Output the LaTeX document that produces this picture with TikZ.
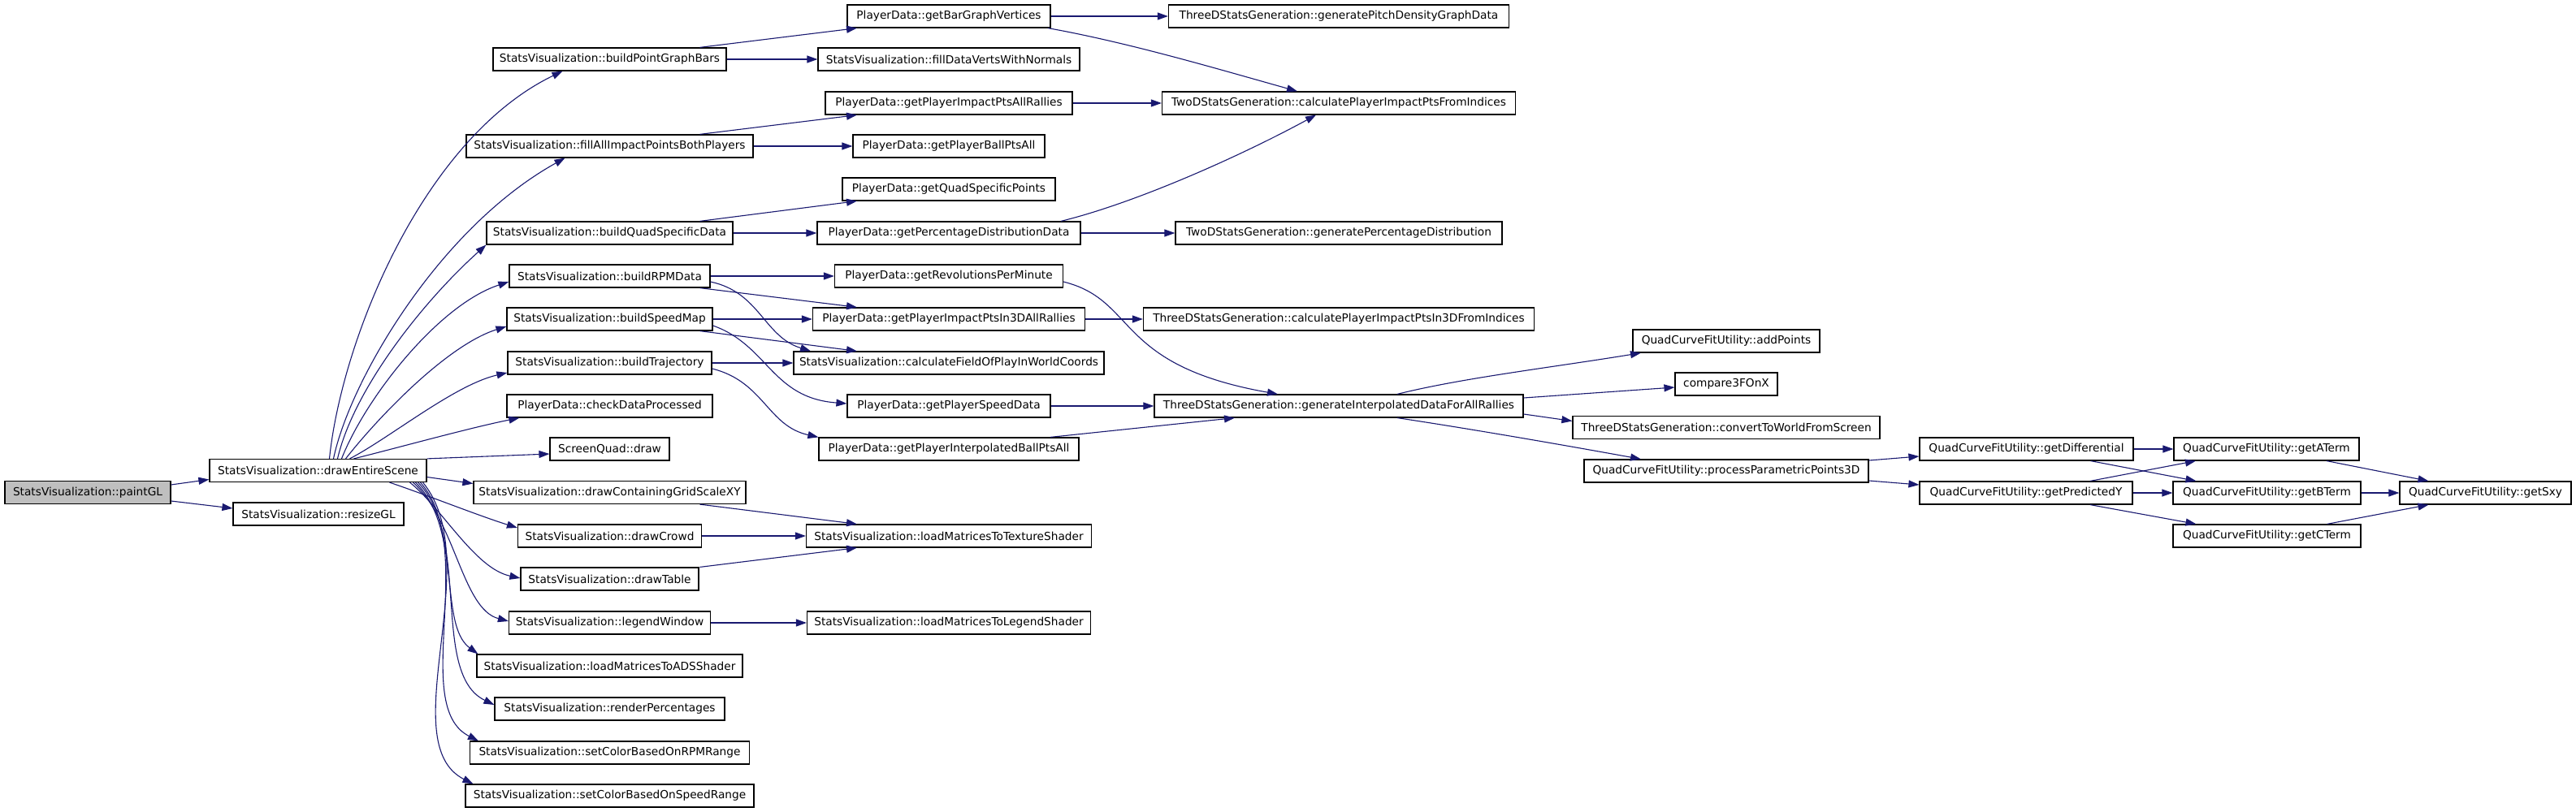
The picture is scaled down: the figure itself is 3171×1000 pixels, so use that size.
\documentclass[tikz,border=0pt]{standalone}
\usepackage{fontspec}
\setmainfont{DejaVu Sans}
\usetikzlibrary{arrows.meta}
\definecolor{edgeblue}{HTML}{191970}
\definecolor{rootgray}{HTML}{BFBFBF}
\tikzset{
  fn/.style={draw=black, line width=1.2pt, fill=white, minimum height=28pt, inner sep=0pt,
    font=\fontsize{13.7}{16}\selectfont},
  call/.style={draw=edgeblue, line width=1.1pt, -{Triangle[length=13pt,width=9pt]}}
}

\begin{document}
\begin{tikzpicture}[x=1pt, y=-1pt]
    \useasboundingbox (0,0) rectangle (3171,1000);

    % root and first level
    \node[fn, fill=rootgray, minimum width=204pt] (pgl) at (108,606.5) {StatsVisualization::paintGL};
    \node[fn, minimum width=267pt] (des) at (391.5,579.5) {StatsVisualization::drawEntireScene};
    \node[fn, minimum width=210pt] (rgl) at (392,633) {StatsVisualization::resizeGL};

    % callees of drawEntireScene
    \foreach \nm/\yy/\ww/\txt in {
        bpgb/73/287/buildPointGraphBars, faip/180/353/fillAllImpactPointsBothPlayers,
        bqsd/287/303/buildQuadSpecificData, brpm/340/247/buildRPMData,
        bsm/393/253/buildSpeedMap, btr/447/251/buildTrajectory,
        dcg/606.5/335/drawContainingGridScaleXY, dcr/660/226/drawCrowd,
        dtb/713/219/drawTable, lgw/767/248/legendWindow,
        lads/820/327/loadMatricesToADSShader, rpc/873/283/renderPercentages,
        scr/927/344/setColorBasedOnRPMRange, scs/980/355/setColorBasedOnSpeedRange} {
        \node[fn, minimum width=\ww pt] (\nm) at (750.5,\yy) {StatsVisualization::\txt};
    }
    \node[fn, minimum width=253pt] (cdp) at (750.5,500) {PlayerData::checkDataProcessed};
    \node[fn, minimum width=147pt] (sqd) at (750.5,553) {ScreenQuad::draw};

    % third column
    \foreach \nm/\yy/\ww/\txt in {
        gbgv/20/250/PlayerData::getBarGraphVertices,
        fdvn/73/322/StatsVisualization::fillDataVertsWithNormals,
        gpia/127/304/PlayerData::getPlayerImpactPtsAllRallies,
        gpba/180/236/PlayerData::getPlayerBallPtsAll,
        gqsp/233/262/PlayerData::getQuadSpecificPoints,
        gpdd/287/324/PlayerData::getPercentageDistributionData,
        grpm/340/281/PlayerData::getRevolutionsPerMinute,
        gpi3/393/335/PlayerData::getPlayerImpactPtsIn3DAllRallies,
        cfp/447/382/StatsVisualization::calculateFieldOfPlayInWorldCoords,
        gpsd/500/250/PlayerData::getPlayerSpeedData,
        gpib/553/320/PlayerData::getPlayerInterpolatedBallPtsAll,
        lmts/660/351/StatsVisualization::loadMatricesToTextureShader,
        lmls/767/349/StatsVisualization::loadMatricesToLegendShader} {
        \node[fn, minimum width=\ww pt] (\nm) at (1168,\yy) {\txt};
    }

    % fourth column
    \foreach \nm/\yy/\ww/\txt in {
        gpdg/20/419/ThreeDStatsGeneration::generatePitchDensityGraphData,
        cpif/127/435/TwoDStatsGeneration::calculatePlayerImpactPtsFromIndices,
        gpdi/287/402/TwoDStatsGeneration::generatePercentageDistribution,
        cp3f/393/481/ThreeDStatsGeneration::calculatePlayerImpactPtsIn3DFromIndices,
        gida/500/454/ThreeDStatsGeneration::generateInterpolatedDataForAllRallies} {
        \node[fn, minimum width=\ww pt] (\nm) at (1648,\yy) {\txt};
    }

    % curve fit part
    \node[fn, minimum width=230pt] (adp) at (2125,420) {QuadCurveFitUtility::addPoints};
    \node[fn, minimum width=126pt] (c3f) at (2125,473) {compare3FOnX};
    \node[fn, minimum width=378pt] (ctw) at (2125,526.5) {ThreeDStatsGeneration::convertToWorldFromScreen};
    \node[fn, minimum width=350pt] (ppp) at (2125,580) {QuadCurveFitUtility::processParametricPoints3D};
    \node[fn, minimum width=263pt] (gdf) at (2494.5,553) {QuadCurveFitUtility::getDifferential};
    \node[fn, minimum width=262pt] (gpy) at (2494,607) {QuadCurveFitUtility::getPredictedY};
    \node[fn, minimum width=228pt] (gat) at (2790,553) {QuadCurveFitUtility::getATerm};
    \node[fn, minimum width=231pt] (gbt) at (2790.5,607) {QuadCurveFitUtility::getBTerm};
    \node[fn, minimum width=231pt] (gct) at (2790.5,660) {QuadCurveFitUtility::getCTerm};
    \node[fn, minimum width=211pt] (gsxy) at (3059.5,607) {QuadCurveFitUtility::getSxy};

    % paintGL
    \draw[call] ([yshift=9.5pt]pgl.east) -- ([yshift=-11pt]des.west);
    \draw[call] ([yshift=-10.5pt]pgl.east) -- ([yshift=7pt]rgl.west);

    % drawEntireScene, upper fan
    \draw[call] ([xshift=14pt]des.north) .. controls +(15,-146) and +(-172,83) .. ([xshift=-58pt]bpgb.south);
    \draw[call] ([xshift=19pt]des.north) .. controls +(20,-96) and +(-155,86) .. ([xshift=-55pt]faip.south);
    \draw[call] ([xshift=24pt]des.north) .. controls +(20,-86) and +(-77,69) .. (bqsd.south west);
    \draw[call] ([xshift=29pt]des.north) .. controls +(30,-76) and +(-86,28) .. ([yshift=-7pt]brpm.west);
    \draw[call] ([xshift=34pt]des.north) .. controls +(40,-51) and +(-73,23) .. ([yshift=-9pt]bsm.west);
    \draw[call] ([xshift=39pt]des.north) .. controls +(50,-26) and +(-65,15) .. ([yshift=-12pt]btr.west);
    \draw[call] ([xshift=44pt]des.north) .. controls +(60,-15) and +(-60,12) .. ([xshift=16pt]cdp.south west);
    \draw[call] (des.north east) -- ([yshift=-6pt]sqd.west);
    \draw[call] ([yshift=-8pt]des.east) -- ([yshift=11pt]dcg.west);

    % drawEntireScene, lower fan
    \draw[call] ([xshift=88pt]des.south) .. controls +(50,17) and +(-48,-15) .. ([yshift=10pt]dcr.west);
    \draw[call] ([xshift=113pt]des.south) .. controls +(40,32) and +(-56,-12) .. ([yshift=1pt]dtb.west);
    \draw[call] ([xshift=117pt]des.south) .. controls +(52,47) and +(-57,-15) .. ([yshift=2pt]lgw.west);
    \draw[call] ([xshift=120pt]des.south) .. controls +(58,57) and +(-49,-36) .. ([xshift=2pt]lads.north west);
    \draw[call] ([xshift=123pt]des.south) .. controls +(66,67) and +(-79,-38) .. ([yshift=5pt]rpc.west);
    \draw[call] ([xshift=126pt]des.south) .. controls +(72,82) and +(-85,-43) .. ([xshift=11pt]scr.north west);
    \draw[call] ([xshift=129pt]des.south) .. controls +(80,97) and +(-100,-51) .. ([xshift=10pt]scs.north west);

    % straight calls to the right
    \foreach \a/\b in {bpgb/fdvn, faip/gpba, bqsd/gpdd, brpm/grpm, bsm/gpi3, btr/cfp,
        dcr/lmts, lgw/lmls, gbgv/gpdg, gpia/cpif, gpdd/gpdi, gpi3/cp3f, gpsd/gida,
        gdf/gat, gpy/gbt, gbt/gsxy} {
        \draw[call] (\a.east) -- (\b.west);
    }

    % slanted calls one row up or down
    \draw[call] ([xshift=111pt]bpgb.north) -- ([xshift=-113pt]gbgv.south);
    \draw[call] ([xshift=111pt]faip.north) -- ([xshift=-113pt]gpia.south);
    \draw[call] ([xshift=111pt]bqsd.north) -- ([xshift=-113pt]gqsp.south);
    \draw[call] ([xshift=111pt]brpm.south) -- ([xshift=-113pt]gpi3.north);
    \draw[call] ([xshift=111pt]bsm.south) -- ([xshift=-113pt]cfp.north);
    \draw[call] ([xshift=111pt]dcg.south) -- ([xshift=-113pt]lmts.north);
    \draw[call] ([xshift=111pt]dtb.north) -- ([xshift=-113pt]lmts.south);
    \draw[call] ([yshift=-7pt]brpm.east) .. controls +(61,13) and +(-58,-18) .. ([xshift=-170pt]cfp.north);
    \draw[call] ([yshift=-8pt]bsm.east) .. controls +(68,24) and +(-93,-7) .. ([yshift=3pt]gpsd.west);
    \draw[call] ([yshift=-7pt]btr.east) .. controls +(64,16) and +(-63,-14) .. (gpib.north west);

    % into the generation classes
    \draw[call] ([xshift=122pt]gbgv.south) .. controls +(100,18) and +(-100,-28) .. ([xshift=-51pt]cpif.north);
    \draw[call] ([xshift=138pt]gpdd.north) .. controls +(94,-23) and +(-90,49) .. ([xshift=-28pt]cpif.south);
    \draw[call] ([yshift=-7pt]grpm.east) .. controls +(92,23) and +(-203,-36) .. ([xshift=-75pt]gida.north);
    \draw[call] ([xshift=125pt]gpib.north) -- ([xshift=-128pt]gida.south);

    % generateInterpolatedDataForAllRallies
    \draw[call] ([xshift=72pt]gida.north) .. controls +(80,-20) and +(-110,18) .. ([xshift=-105pt]adp.south);
    \draw[call] ([yshift=10pt]gida.east) -- ([yshift=-4pt]c3f.west);
    \draw[call] ([yshift=-10pt]gida.east) -- ([yshift=8pt]ctw.west);
    \draw[call] ([xshift=72pt]gida.south) .. controls +(80,12) and +(-110,-20) .. ([xshift=-105pt]ppp.north);

    % curve fit
    \draw[call] ([yshift=13pt]ppp.east) -- ([yshift=-9pt]gdf.west);
    \draw[call] ([yshift=-12pt]ppp.east) -- ([yshift=10pt]gpy.west);
    \draw[call] ([xshift=79pt]gdf.south) -- ([xshift=-87pt]gbt.north);
    \draw[call] ([xshift=79pt]gpy.north) -- ([xshift=-87pt]gat.south);
    \draw[call] ([xshift=79pt]gpy.south) -- ([xshift=-87pt]gct.north);
    \draw[call] ([xshift=74pt]gat.south) -- ([xshift=-70pt]gsxy.north);
    \draw[call] ([xshift=74pt]gct.north) -- ([xshift=-70pt]gsxy.south);
\end{tikzpicture}
\end{document}
